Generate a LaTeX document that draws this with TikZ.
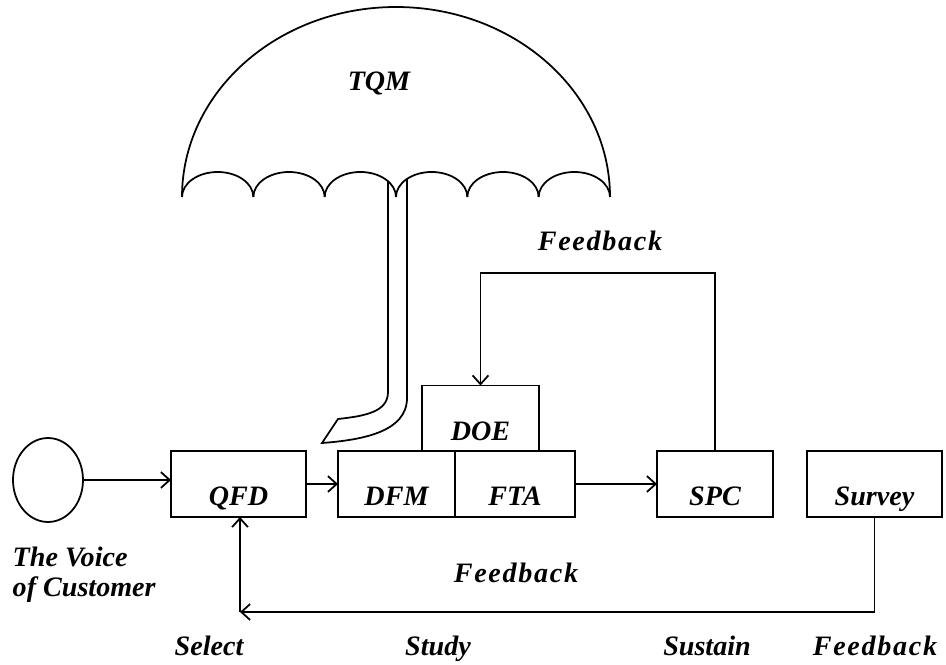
\documentclass[tikz,border=0pt]{standalone}
\usepackage{fontspec}
\setmainfont{Liberation Serif}
\newfontfamily\widefont[LetterSpace=6]{Liberation Serif}
\usetikzlibrary{arrows.meta, positioning, shapes.geometric}

\begin{document}
\begin{tikzpicture}[x=0.02cm, y=-0.02cm, line width=1pt,
		>={Straight Barb[length=5pt, width=9pt]},
		every node/.style={font=\fontsize{16}{17.5}\selectfont\bfseries\itshape},
		blk/.style={draw, inner sep=0pt, outer sep=0pt, minimum height=1.32cm,
			text height=0.95cm, text depth=0.08cm},
		lbl/.style={font=\fontsize{16}{17.5}\selectfont\widefont\bfseries\itshape},
		stage/.style={anchor=base}]
		
		\useasboundingbox (0,0) rectangle (946,665);
		
		% Umbrella canopy with scalloped rim
		\draw (182,197) arc[start angle=180, end angle=360, x radius=214, y radius=190];
		\foreach \i in {0,...,5}
		\draw (182+71.33*\i,197) arc[start angle=180, end angle=360, x radius=35.67, y radius=25];
		\node (tqm) at (379,83) {TQM};
		
		% Handle with hook
		\draw (388,181) -- (388,392) .. controls (388,412) and (365,416) .. (338,419)
		-- (322,443) .. controls (362,440) and (407,432) .. (407,398) -- (407,179);
		
		% Customer
		\node[draw, ellipse, inner sep=0pt, minimum width=1.4cm, minimum height=1.68cm] (voc) at (48,480) {};
		\node[align=left, anchor=north west] (voctxt) at (6,540) {The Voice\\of Customer};
		
		% Process blocks
		\node[blk, minimum width=2.7cm] (qfd) at (238.5,484) {QFD};
		\node[blk, minimum width=2.34cm] (dfm) at (396.5,484) {DFM};
		\node[blk, minimum width=2.4cm, right=0pt of dfm] (fta) {FTA};
		\node[blk, minimum width=2.34cm] (doe) at (480.5,418.5) {DOE};
		\node[blk, minimum width=2.32cm] (spc) at (715,484) {SPC};
		\node[blk, minimum width=2.7cm] (srv) at (874.5,484) {Survey};
		
		% Forward flow
		\draw[->] (voc.east) -- (voc.east -| qfd.west);
		\draw[->] (qfd) -- (dfm);
		\draw[->] (fta) -- (spc);
		
		% Feedback loops
		\coordinate (fbtop) at (600,273);
		\draw[->] (spc.north) |- (fbtop) -| (doe.north);
		\node[lbl] (fbtoplbl) at (600,241) {Feedback};
		
		\coordinate (fbbot) at (240,612);
		\draw[->] (srv.south) |- (fbbot);
		\draw[->] (fbbot) -- (fbbot |- qfd.south);
		\node[lbl] (fbbotlbl) at (516,573) {Feedback};
		
		% Stages
		\node[stage] (sel) at (209,655) {Select};
		\node[stage] (stu) at (438,655) {Study};
		\node[stage] (sus) at (707,655) {Sustain};
		\node[stage, lbl] (fbk) at (875,655) {Feedback};
		
	\end{tikzpicture}
\end{document}
